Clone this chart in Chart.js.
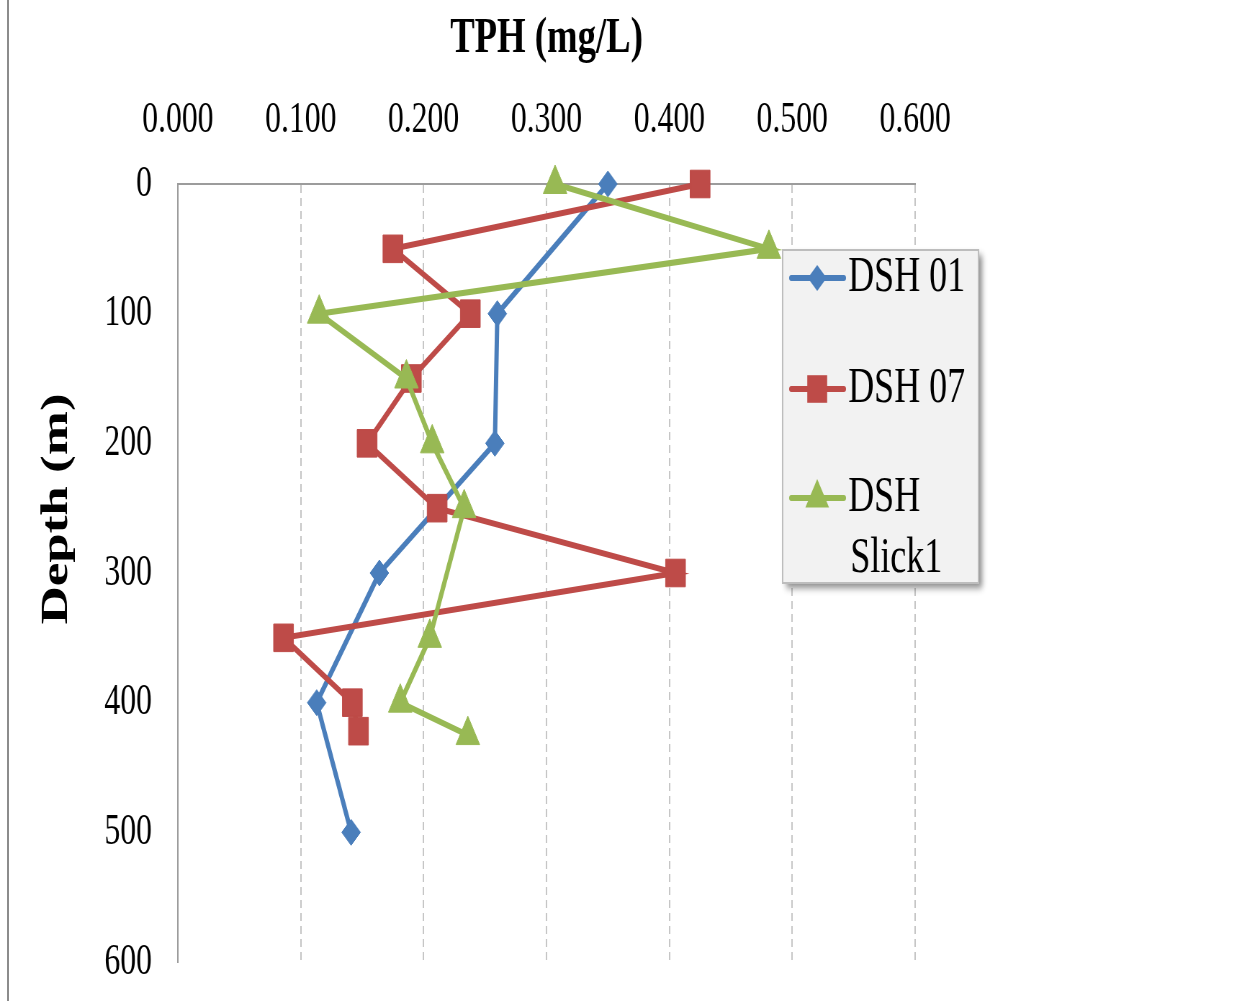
<!DOCTYPE html>
<html>
<head>
<meta charset="utf-8">
<title>TPH vs Depth</title>
<script src="https://cdn.jsdelivr.net/npm/chart.js@4.4.1/dist/chart.umd.min.js"></script>
<style>
  html, body { margin: 0; padding: 0; background: #fff; overflow: hidden; }
  #page-border { position: absolute; left: 7px; top: 0; height: 1001px; border-left: 2px solid #8c8c8c; }
  /* the original is squeezed sideways, so draw wide and scale down on x */
  #wrap { position: absolute; left: 0; top: 0; width: 1742px; height: 1001px;
          transform: scaleX(0.72); transform-origin: 0 0; }
</style>
</head>
<body>
<div id="page-border"></div>
<div id="wrap"><canvas id="tph-chart" width="1742" height="1001"></canvas></div>
<script>
// series names
const seriesNames = ['DSH 01', 'DSH 07', 'DSH Slick1'];
const legendLines = [['DSH 01'], ['DSH 07'], ['DSH', 'Slick1']];

// depth (m) and TPH (mg/L)
const depth01 = [0, 100, 200, 300, 400, 500];
const tph01 = [0.350, 0.260, 0.258, 0.164, 0.113, 0.141];

const depth07 = [0, 50, 100, 150, 200, 250, 300, 350, 400, 422];
const tph07 = [0.425, 0.175, 0.238, 0.190, 0.154, 0.211, 0.405, 0.086, 0.142, 0.147];

const depthSlick = [0, 50, 100, 150, 200, 250, 350, 400, 425];
const tphSlick = [0.307, 0.481, 0.115, 0.186, 0.207, 0.233, 0.205, 0.181, 0.236];

// axes
const xTicks = [0, 0.1, 0.2, 0.3, 0.4, 0.5, 0.6];
const yTicks = [0, 100, 200, 300, 400, 500, 600];
const xTitle = 'TPH (mg/L)';
const yTitle = 'Depth (m)';

const colors = ['#4a7ebb', '#be4b48', '#98b954'];
const markers = ['rectRot', 'rect', 'triangle'];
const markerSize = [13, 19.5, 19];
const serif = '"Liberation Serif", "Times New Roman", serif';

function toPoints(xs, ys) {
    return xs.map(function (x, i) { return {x: x, y: ys[i]}; });
}

function makeDataset(i, xs, ys) {
    return {
        label: seriesNames[i],
        data: toPoints(xs, ys),
        showLine: true,
        borderColor: colors[i],
        backgroundColor: colors[i],
        borderWidth: 6,
        tension: 0,
        pointStyle: markers[i],
        pointRadius: markerSize[i],
        pointHoverRadius: markerSize[i],
        pointBorderWidth: 1,
        clip: false,
        order: 3 - i
    };
}

function drawMarker(ctx, style, r, x, y) {
    ctx.beginPath();
    if (style === 'rectRot') {
        ctx.moveTo(x - r, y);
        ctx.lineTo(x, y - r);
        ctx.lineTo(x + r, y);
        ctx.lineTo(x, y + r);
    } else if (style === 'rect') {
        let s = Math.SQRT1_2 * r;
        ctx.rect(x - s, y - s, 2 * s, 2 * s);
    } else {
        ctx.moveTo(x, y - r);
        ctx.lineTo(x + 0.866 * r, y + 0.5 * r);
        ctx.lineTo(x - 0.866 * r, y + 0.5 * r);
    }
    ctx.closePath();
    ctx.fill();
}

// y title and the boxed legend, placed like the original
const decorPlugin = {
    id: 'decor',
    afterDraw: function (chart) {
        const ctx = chart.ctx;

        ctx.save();
        ctx.translate(79, 509);
        ctx.rotate(-Math.PI / 2);
        ctx.font = 'bold 53px ' + serif;
        ctx.fillStyle = '#000';
        ctx.textAlign = 'center';
        ctx.textBaseline = 'middle';
        ctx.fillText(yTitle, 0, 0);
        ctx.restore();

        ctx.save();
        ctx.shadowColor = 'rgba(0,0,0,0.45)';
        ctx.shadowOffsetX = 5;
        ctx.shadowOffsetY = 5;
        ctx.shadowBlur = 7;
        ctx.fillStyle = '#f2f2f2';
        ctx.fillRect(1087, 250, 272, 333);
        ctx.restore();
        ctx.save();
        ctx.strokeStyle = '#bdbdbd';
        ctx.lineWidth = 2;
        ctx.strokeRect(1087, 250, 272, 333);

        const rowY = [278, 389, 498];
        ctx.font = '50px ' + serif;
        ctx.textAlign = 'left';
        ctx.textBaseline = 'middle';
        chart.data.datasets.forEach(function (ds, i) {
            let y = rowY[i];
            ctx.strokeStyle = colors[i];
            ctx.fillStyle = colors[i];
            ctx.lineWidth = 6;
            ctx.lineCap = 'round';
            ctx.beginPath();
            ctx.moveTo(1099, y);
            ctx.lineTo(1172, y);
            ctx.stroke();
            drawMarker(ctx, markers[i], markerSize[i], 1135, y);
            ctx.fillStyle = '#000';
            legendLines[i].forEach(function (line, k) {
                ctx.fillText(line, 1178 + k * 3, y + k * 61);
            });
        });
        ctx.restore();
    }
};

const chart = new Chart(document.getElementById('tph-chart'), {
    type: 'scatter',
    data: {
        datasets: [
            makeDataset(0, tph01, depth01),
            makeDataset(1, tph07, depth07),
            makeDataset(2, tphSlick, depthSlick)
        ]
    },
    options: {
        responsive: false,
        animation: false,
        events: [],
        layout: { padding: { left: 0, top: 0, right: 471, bottom: 39 } },
        plugins: {
            legend: { display: false },
            tooltip: { enabled: false }
        },
        scales: {
            x: {
                type: 'linear',
                position: 'top',
                min: 0,
                max: 0.6,
                afterBuildTicks: function (scale) {
                    scale.ticks = xTicks.map(function (v) { return {value: v}; });
                },
                afterFit: function (scale) { scale.height = 184; },
                ticks: {
                    padding: 37,
                    color: '#000',
                    font: { family: serif, size: 44 },
                    callback: function (v) { return Number(v).toFixed(3); }
                },
                grid: {
                    drawTicks: false,
                    lineWidth: 2,
                    color: function (c) {
                        return c.tick && c.tick.value === 0 ? 'rgba(0,0,0,0)' : '#c6c6c6';
                    }
                },
                border: { display: true, color: '#9c9c9c', width: 2, dash: [8, 5] },
                title: {
                    display: true,
                    text: xTitle,
                    color: '#000',
                    font: { family: serif, size: 51, weight: 'bold' },
                    padding: { top: 8, bottom: 0 }
                }
            },
            y: {
                type: 'linear',
                position: 'left',
                reverse: true,
                min: 0,
                max: 600,
                afterBuildTicks: function (scale) {
                    scale.ticks = yTicks.map(function (v) { return {value: v}; });
                },
                afterFit: function (scale) {
                    scale.width = 247;
                    // tick padding would otherwise eat into the bottom margin
                    scale.paddingTop = 0;
                    scale.paddingBottom = 0;
                },
                ticks: {
                    padding: 36,
                    color: '#000',
                    font: { family: serif, size: 44 }
                },
                grid: { display: false, drawTicks: false },
                border: { display: true, color: '#9c9c9c', width: 2 }
            }
        }
    },
    plugins: [decorPlugin]
});
</script>
</body>
</html>
